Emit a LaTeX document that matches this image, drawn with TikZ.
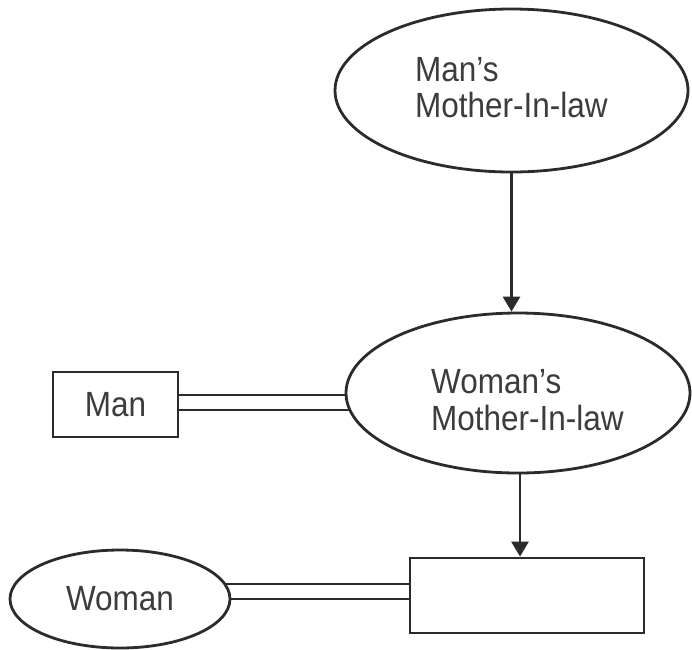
\documentclass[tikz,border=0pt]{standalone}
\usepackage{fontspec}
\setmainfont{Liberation Sans}[FakeStretch=0.9]
\usetikzlibrary{arrows.meta,shapes.geometric,backgrounds}
\definecolor{ink}{HTML}{2B2B2B}
\definecolor{txt}{HTML}{3C3C3C}
\begin{document}
\begin{tikzpicture}[x=1pt,y=-1pt,
  every node/.style={font=\fontsize{35}{37}\selectfont, text=txt},
  oval/.style={ellipse, draw=ink, line width=2.8pt, fill=white, inner sep=0pt},
  boxnode/.style={rectangle, draw=ink, line width=2.8pt, fill=white, inner sep=0pt},
  arr/.style={draw=ink, line width=2.8pt, -{Triangle[length=15pt,width=17pt]}},
  dbl/.style={draw=ink, line width=2.8pt, double=white, double distance=12.2pt},
  lbl/.style={anchor=base west, inner sep=0pt}]
\useasboundingbox (0,0) rectangle (692,649);

% relatives
\node[oval, minimum width=353pt, minimum height=163pt] (mmil) at (511.5,90.5) {};
\node[oval, minimum width=344pt, minimum height=160pt] (wmil) at (518,393) {};
\node[boxnode, minimum width=125pt, minimum height=65pt] (man) at (115.5,404.5) {Man};
\node[oval, minimum width=220pt, minimum height=98pt] (woman) at (120,599) {Woman};
\node[boxnode, minimum width=234pt, minimum height=75pt] (child) at (527,595.5) {};

% labels of the two ovals
\node[lbl] (t1) at (415,81) {Man’s};
\node[lbl] (t2) at (415,117) {Mother-In-law};
\node[lbl] (t3) at (431,393) {Woman’s};
\node[lbl] (t4) at (431,430) {Mother-In-law};

% descent arrows
\draw[arr] (mmil.south) -- (mmil.south |- wmil.north);
\draw[arr] ([xshift=2pt]wmil.south) -- ([xshift=2pt]wmil.south |- child.north);

% marriage links, hidden under the filled shapes
\begin{scope}[on background layer]
  \coordinate (ml) at ([yshift=2pt]man.center);
  \draw[dbl] (ml) -- (ml -| wmil.center);
  \coordinate (wl) at ([yshift=4pt]child.center);
  \draw[dbl] (wl) -- (wl -| woman.center);
\end{scope}
\end{tikzpicture}
\end{document}
